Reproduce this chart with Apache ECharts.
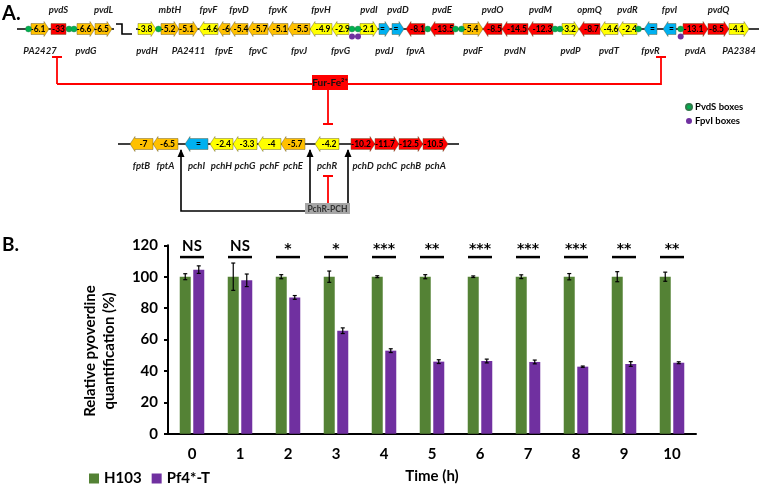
<!DOCTYPE html>
<html><head><meta charset="utf-8">
<script src="https://cdn.jsdelivr.net/npm/echarts@6/dist/echarts.min.js"></script>
<style>html,body{margin:0;padding:0;background:#fff}#c{width:760px;height:490px}</style>
</head><body><div id="c"></div>
<script>
// ---------------- Panel B data ----------------
const timeLabels = ['0','1','2','3','4','5','6','7','8','9','10'];
const h103Mean = [100,100,100,100,100,100,100,100,100,100,100];
const h103Err  = [1.9,8.7,1.3,3.6,0.6,1.3,0.5,1.2,2.0,3.2,2.9];
const pf4Mean  = [104.5,97.7,86.8,65.6,52.9,45.9,46.3,45.7,42.7,44.4,45.2];
const pf4Err   = [2.4,4.0,1.2,1.8,1.2,1.2,1.2,1.2,0.4,1.5,0.6];
const significance = ['NS','NS','*','*','***','**','***','***','***','**','**'];
const sigLevel = 112.5;

// ---------------- Panel A data (schematic map units) ----------------
const pvdNames = ['PA2427','pvdS','pvdG','pvdL','pvdH','mbtH','PA2411','fpvF','fpvE','fpvD','fpvC','fpvK','fpvJ','fpvH','fpvG','pvdI','pvdJ','pvdD','fpvA','pvdE','pvdF','pvdO','pvdN','pvdM','pvdP','opmQ','pvdT','pvdR','fpvR','fpvI','pvdA','pvdQ','PA2384'];
const pvdStart = [31,51,77,95,138,161,179,199,218,230,248,268,288,310,332,360,379,392,406,430,463,483,502,528,562,579,600,618,644,663,683,708,729];
const pvdEnd   = [49,66,95,112,156,179,198,218,230,248,268,288,310,332,349,378,390,404,425,454,483,502,528,553,579,600,618,637,657,676,708,729,749];
const pvdDir   = [1,0,1,1,1,1,1,-1,-1,-1,-1,-1,-1,-1,-1,1,1,1,-1,-1,1,-1,-1,-1,1,-1,-1,-1,-1,-1,1,1,1];
const pvdFold  = ['-6.1','-33','-6.6','-6.5','-3.8','-5.2','-5.1','-4.6','-6','-5.4','-5.7','-5.1','-5.5','-4.9','-2.9','-2.1','=','=','-8.1','-13.5','-5.4','-8.5','-14.5','-12.3','-3.2','-8.7','-4.6','-2.4','=','=','-13.1','-8.5','-4.1'];
const pvdSide  = ['b','a','b','a','b','a','b','a','b','a','b','a','b','a','b','a','b','a','b','a','b','a','b','a','b','a','b','a','b','a','b','a','b'];
const pvdRow = 29;

const pchNames = ['fptB','fptA','pchI','pchH','pchG','pchF','pchE','pchR','pchD','pchC','pchB','pchA'];
const pchStart = [130,153,185,210,233,258,281,315,351,375,399,423];
const pchEnd   = [153,178,208,233,257,281,305,339,375,399,423,448];
const pchDir   = [-1,-1,-1,-1,-1,-1,-1,-1,1,1,1,1];
const pchFold  = ['-7','-6.5','=','-2.4','-3.3','-4','-5.7','-4.2','-10.2','-11.7','-12.5','-10.5'];
const pchRow = 144;

const pvdSBoxX = [28.5,69,74,158.5,352,358,427.7,455.5,461.5,555,560,638.5,680.7];
const fpvIBoxX = [352,358,680.7];

const FONT = 'Lato';
const C = {red:'#ff0000', orange:'#ffc000', yellow:'#ffff00', blue:'#00b0f0', green:'#00b050', purple:'#7030a0', barGreen:'#548235', barPurple:'#7030a0'};

function foldColor(f){
  if (f === '=') return C.blue;
  const v = parseFloat(f);
  if (v <= -8) return C.red;
  if (v <= -5) return C.orange;
  return C.yellow;
}

const genes = [];
pvdNames.forEach((n,i)=>genes.push({name:n,start:pvdStart[i],end:pvdEnd[i],dir:pvdDir[i],fold:pvdFold[i],side:pvdSide[i],row:pvdRow}));
pchNames.forEach((n,i)=>genes.push({name:n,start:pchStart[i],end:pchEnd[i],dir:pchDir[i],fold:pchFold[i],side:'b',row:pchRow}));

// connectors: polyline, colour, end style
const connectors = [
  {pts:[[17,pvdRow],[114,pvdRow]], color:'#000', end:'none', w:1.6},
  {pts:[[116,24],[122,24],[122,34],[132,34]], color:'#000', end:'none', w:1.6},
  {pts:[[136,pvdRow],[759,pvdRow]], color:'#000', end:'none', w:1.6},
  {pts:[[118,pchRow],[459,pchRow]], color:'#000', end:'none', w:1.6},
  {pts:[[57,84],[57,57]], color:'#ff0000', end:'T', w:1.8},
  {pts:[[57,84],[661,84],[661,57]], color:'#ff0000', end:'T', w:1.8},
  {pts:[[328,89],[328,124]], color:'#ff0000', end:'T', w:1.8},
  {pts:[[328,203],[328,176]], color:'#ff0000', end:'T', w:1.8},
  {pts:[[306,211],[181,211],[181,150]], color:'#000', end:'arrow', w:1.6},
  {pts:[[310,203],[310,150]], color:'#000', end:'arrow', w:1.6},
  {pts:[[348,203],[348,150]], color:'#000', end:'arrow', w:1.6}
];
const boxes = [
  {x0:312,x1:348,y0:75,y1:90,text:'Fur-Fe²⁺',fill:'#ff0000',color:'#111',font:'bold 10px '+FONT},
  {x0:305,x1:350,y0:203,y1:214,text:'PchR-PCH',fill:'#a6a6a6',color:'#333',font:'bold 8.5px '+FONT}
];

function renderGene(params, api){
  const g = genes[params.dataIndex];
  const p0 = api.coord([g.start, g.row]);
  const p1 = api.coord([g.end, g.row]);
  const x0 = p0[0], x1 = p1[0], y = p0[1];
  const hb = 5.5, hh = 7.5, hl = 5;
  let pts, cx;
  if (g.dir > 0){ pts=[[x0,y-hb],[x1-hl,y-hb],[x1-hl,y-hh],[x1,y],[x1-hl,y+hh],[x1-hl,y+hb],[x0,y+hb]]; cx=(x0+x1-hl)/2+0.5; }
  else if (g.dir < 0){ pts=[[x1,y-hb],[x0+hl,y-hb],[x0+hl,y-hh],[x0,y],[x0+hl,y+hh],[x0+hl,y+hb],[x1,y+hb]]; cx=(x0+hl+x1)/2-0.5; }
  else { pts=[[x0,y-hb],[x1,y-hb],[x1,y+hb],[x0,y+hb]]; cx=(x0+x1)/2; }
  const ly = g.side === 'a' ? y - 19.5 : y + 21.5;
  return {type:'group', children:[
    {type:'polygon', shape:{points:pts}, style:{fill:foldColor(g.fold), stroke:'rgba(100,90,50,0.75)', lineWidth:0.6}},
    {type:'text', style:{text:g.fold, x:cx, y:y+0.5, textAlign:'center', textVerticalAlign:'middle', font:'bold 8.5px '+FONT, fill:'#000'}},
    {type:'text', style:{text:g.name, x:(x0+x1)/2, y:ly, textAlign:'center', textVerticalAlign:'middle', font:'italic bold 9.5px '+FONT, fill:'#1a1a1a'}}
  ]};
}

function renderConnector(params, api){
  const c = connectors[params.dataIndex];
  const pts = c.pts.map(p=>api.coord(p));
  const children = [{type:'polyline', shape:{points:pts}, style:{stroke:c.color, lineWidth:c.w, fill:null}}];
  const a = pts[pts.length-2], b = pts[pts.length-1];
  const dx=b[0]-a[0], dy=b[1]-a[1], L=Math.hypot(dx,dy), ux=dx/L, uy=dy/L, nx=-uy, ny=ux;
  if (c.end==='T'){
    const hw=5;
    children.push({type:'line', shape:{x1:b[0]-nx*hw,y1:b[1]-ny*hw,x2:b[0]+nx*hw,y2:b[1]+ny*hw}, style:{stroke:c.color,lineWidth:2}});
  } else if (c.end==='arrow'){
    const al=7, aw=3.5;
    children.push({type:'polygon', shape:{points:[[b[0]+ux*1,b[1]+uy*1],[b[0]-ux*al+nx*aw,b[1]-uy*al+ny*aw],[b[0]-ux*al-nx*aw,b[1]-uy*al-ny*aw]]}, style:{fill:c.color}});
  }
  return {type:'group', children};
}

function renderBox(params, api){
  const b = boxes[params.dataIndex];
  const p0 = api.coord([b.x0,b.y0]), p1 = api.coord([b.x1,b.y1]);
  return {type:'group', children:[
    {type:'rect', shape:{x:p0[0],y:p0[1],width:p1[0]-p0[0],height:p1[1]-p0[1]}, style:{fill:b.fill}},
    {type:'text', style:{text:b.text, x:(p0[0]+p1[0])/2, y:(p0[1]+p1[1])/2+0.5, textAlign:'center', textVerticalAlign:'middle', font:b.font, fill:b.color}}
  ]};
}

function renderErr(offset){
  return function(params, api){
    const i = api.value(0), lo = api.value(1), hi = api.value(2);
    const pl = api.coord([i, lo]), ph = api.coord([i, hi]);
    const x = pl[0] + offset;
    return {type:'group', children:[
      {type:'line', shape:{x1:x,y1:pl[1],x2:x,y2:ph[1]}, style:{stroke:'#000',lineWidth:1.2}},
      {type:'line', shape:{x1:x-2,y1:pl[1],x2:x+2,y2:pl[1]}, style:{stroke:'#000',lineWidth:1.2}},
      {type:'line', shape:{x1:x-2,y1:ph[1],x2:x+2,y2:ph[1]}, style:{stroke:'#000',lineWidth:1.2}}
    ]};
  };
}

function renderSig(params, api){
  const i = api.value(0);
  const p = api.coord([i, api.value(1)]);
  const t = significance[params.dataIndex];
  const isNS = t === 'NS';
  return {type:'group', children:[
    {type:'line', shape:{x1:p[0]-12,y1:p[1],x2:p[0]+12,y2:p[1]}, style:{stroke:'#000',lineWidth:2.5}},
    {type:'text', style:{text:t, x:p[0], y:p[1]-(isNS?3:1), textAlign:'center', textVerticalAlign:'bottom',
      font:isNS ? 'bold 15px '+FONT : 'bold 14px "DejaVu Sans"', fill:'#000'}}
  ]};
}

const chart = echarts.init(document.getElementById('c'), null, {renderer:'canvas'});
const BW = 11, HALF = 6.75;
chart.setOption({
  animation:false,
  backgroundColor:'#fff',
  textStyle:{fontFamily:FONT},
  grid:[
    {left:0, top:0, width:760, height:490},
    {left:168, top:245.3, width:528, height:188.4}
  ],
  xAxis:[
    {type:'value', gridIndex:0, min:0, max:760, show:false},
    {type:'category', gridIndex:1, data:timeLabels,
     axisLine:{lineStyle:{color:'#000',width:2}},
     axisTick:{alignWithLabel:true, length:4, lineStyle:{color:'#000',width:2}},
     axisLabel:{color:'#000', fontWeight:'bold', fontSize:15, margin:13, fontFamily:FONT},
     name:'Time (h)', nameLocation:'middle', nameGap:35,
     nameTextStyle:{color:'#000', fontWeight:'bold', fontSize:15, fontFamily:FONT}}
  ],
  yAxis:[
    {type:'value', gridIndex:0, min:0, max:490, inverse:true, show:false},
    {type:'value', gridIndex:1, min:0, max:120, interval:20,
     axisLine:{show:true, lineStyle:{color:'#000',width:2}},
     axisTick:{show:true, length:4, lineStyle:{color:'#000',width:2}},
     splitLine:{show:false},
     axisLabel:{color:'#000', fontWeight:'bold', fontSize:15, margin:10, fontFamily:FONT}}
  ],
  legend:[
    {data:['H103','Pf4*-T'], left:84, top:466, itemWidth:10, itemHeight:10, itemGap:10, icon:'rect',
     textStyle:{color:'#000', fontWeight:'bold', fontSize:15, fontFamily:FONT}},
    {data:['PvdS boxes','FpvI boxes'], orient:'vertical', left:680, top:97, itemWidth:6, itemHeight:6, itemGap:4, icon:'circle',
     textStyle:{color:'#000', fontWeight:'bold', fontSize:9.5, fontFamily:FONT, padding:[0,0,0,-2]}}
  ],
  graphic:[
    {type:'text', left:2, top:4, style:{text:'A.', font:'bold 20px '+FONT, fill:'#000'}},
    {type:'text', left:2, top:235, style:{text:'B.', font:'bold 19px '+FONT, fill:'#000'}},
    {type:'text', x:100, y:351, rotation:Math.PI/2, style:{text:'Relative pyoverdine\nquantification (%)', font:'bold 15px '+FONT, fill:'#000', textAlign:'center', textVerticalAlign:'middle', lineHeight:19}}
  ],
  series:[
    {type:'custom', name:'connectors', xAxisIndex:0, yAxisIndex:0, z:1, clip:false, silent:true,
     renderItem:renderConnector, data:connectors.map(c=>c.pts[0])},
    {type:'custom', name:'genes', xAxisIndex:0, yAxisIndex:0, z:2, clip:false, silent:true,
     renderItem:renderGene, data:genes.map(g=>[g.start,g.row])},
    {type:'custom', name:'boxes', xAxisIndex:0, yAxisIndex:0, z:4, clip:false, silent:true,
     renderItem:renderBox, data:boxes.map(b=>[b.x0,b.y0])},
    {type:'scatter', name:'PvdS boxes', xAxisIndex:0, yAxisIndex:0, z:5, symbolSize:6,
     itemStyle:{color:C.green, borderColor:'#2f7a4a', borderWidth:0.4, opacity:1}, data:pvdSBoxX.map(x=>[x,pvdRow])},
    {type:'scatter', name:'FpvI boxes', xAxisIndex:0, yAxisIndex:0, z:5, symbolSize:6,
     itemStyle:{color:C.purple, opacity:1}, data:fpvIBoxX.map(x=>[x,pvdRow+7.5])},
    {type:'bar', name:'H103', xAxisIndex:1, yAxisIndex:1, data:h103Mean, barWidth:BW, barGap:'23%',
     itemStyle:{color:C.barGreen}},
    {type:'bar', name:'Pf4*-T', xAxisIndex:1, yAxisIndex:1, data:pf4Mean, barWidth:BW, barGap:'23%',
     itemStyle:{color:C.barPurple}},
    {type:'custom', name:'errH', xAxisIndex:1, yAxisIndex:1, z:10, renderItem:renderErr(-HALF),
     data:h103Mean.map((m,i)=>[i, m-h103Err[i], m+h103Err[i]])},
    {type:'custom', name:'errP', xAxisIndex:1, yAxisIndex:1, z:10, renderItem:renderErr(HALF),
     data:pf4Mean.map((m,i)=>[i, m-pf4Err[i], m+pf4Err[i]])},
    {type:'custom', name:'sig', xAxisIndex:1, yAxisIndex:1, z:10, clip:false, renderItem:renderSig,
     data:significance.map((s,i)=>[i, sigLevel])}
  ]
});
</script></body></html>
